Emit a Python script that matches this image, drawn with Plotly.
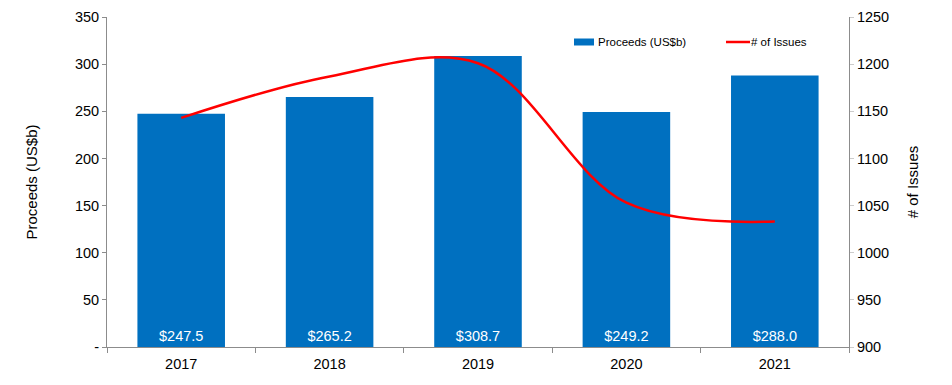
import plotly.graph_objects as go

years = ["2017", "2018", "2019", "2020", "2021"]
proceeds = [247.5, 265.2, 308.7, 249.2, 288.0]
issues = [1143, 1187, 1201, 1053, 1033]

left_ticks = [0, 50, 100, 150, 200, 250, 300, 350]
left_ticktext = ["-", "50", "100", "150", "200", "250", "300", "350"]
right_ticks = [900, 950, 1000, 1050, 1100, 1150, 1200, 1250]

font_family = "Liberation Sans, Arial, sans-serif"
axis_color = "#8c8c8c"
bar_color = "#0070C0"
line_color = "#FF0000"

fig = go.Figure()
fig.add_trace(go.Bar(
    x=years, y=proceeds, name="Proceeds (US$b)",
    marker=dict(color=bar_color, line=dict(width=0)),
    texttemplate="$%{y:.1f}", textposition="inside", insidetextanchor="start",
    textfont=dict(color="white", size=14.5, family=font_family),
    textangle=0, showlegend=False,
))
fig.add_trace(go.Scatter(
    x=years, y=issues, name="# of Issues", yaxis="y2",
    mode="lines", line=dict(color=line_color, width=2.5, shape="spline", smoothing=1.0),
    showlegend=False,
))

# manual legend (pixel positions converted to paper coordinates)
def px(x):
    return (x - 107) / 742.0

def py(y):
    return (347 - y) / 330.0

fig.add_shape(type="rect", xref="paper", yref="paper",
              x0=px(574), x1=px(594), y0=py(45.5), y1=py(38.5),
              fillcolor=bar_color, line=dict(width=0))
fig.add_shape(type="line", xref="paper", yref="paper",
              x0=px(726), x1=px(750), y0=py(42), y1=py(42),
              line=dict(color=line_color, width=2.5))
fig.add_annotation(xref="paper", yref="paper", x=px(596), y=py(42),
                   text="Proceeds (US$b)", showarrow=False, xanchor="left",
                   yanchor="middle", font=dict(size=11.5, color="#000"))
fig.add_annotation(xref="paper", yref="paper", x=px(749), y=py(42),
                   text="# of Issues", showarrow=False, xanchor="left",
                   yanchor="middle", font=dict(size=11.5, color="#000"))

fig.update_layout(
    width=952, height=385,
    margin=dict(l=107, r=103, t=17, b=38, autoexpand=False),
    paper_bgcolor="white", plot_bgcolor="white",
    font=dict(family=font_family, size=14.5, color="#000000"),
    bargap=0.41,
    showlegend=False,
    xaxis=dict(
        type="category", showline=True, linecolor=axis_color, linewidth=1,
        ticks="outside", tickson="boundaries", ticklen=5, tickcolor=axis_color,
        showgrid=False, tickfont=dict(size=14.5), automargin=False,
        ticklabelstandoff=4,
    ),
    yaxis=dict(
        range=[0, 350], tickvals=left_ticks, ticktext=left_ticktext,
        showline=True, linecolor=axis_color, linewidth=1,
        ticks="outside", ticklen=4, tickcolor=axis_color,
        showgrid=False, zeroline=False, automargin=False,
        title=dict(text="Proceeds (US$b)", font=dict(size=15), standoff=33),
        tickfont=dict(size=14.5),
    ),
    yaxis2=dict(
        range=[900, 1250], tickvals=right_ticks, overlaying="y", side="right",
        showline=True, linecolor=axis_color, linewidth=1,
        ticks="outside", ticklen=4, tickcolor="#cccccc",
        showgrid=False, zeroline=False, automargin=False,
        title=dict(text="# of Issues", font=dict(size=15), standoff=19),
        tickfont=dict(size=14.5),
    ),
)

fig.write_html("out.html")
